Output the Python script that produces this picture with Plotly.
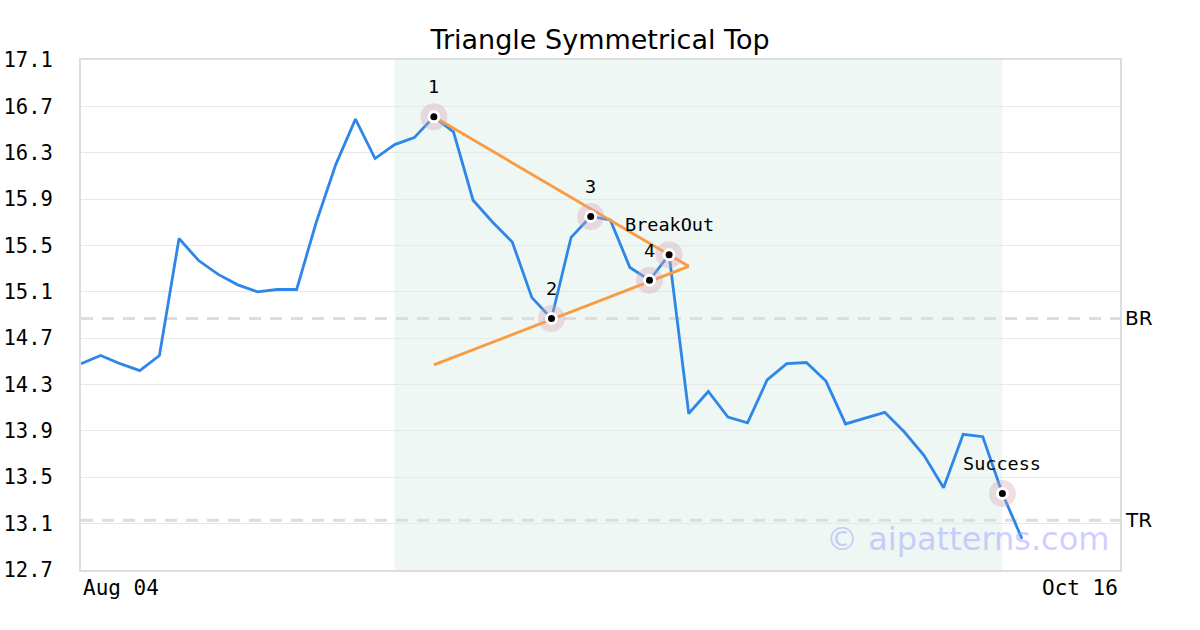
import plotly.graph_objects as go

# ---- data ----
x_labels = ["Aug 04", "Oct 16"]
x_label_pos = [0, 53]
prices = [14.48, 14.55, 14.48, 14.42, 14.55, 15.56, 15.37, 15.25, 15.16, 15.10,
          15.12, 15.12, 15.70, 16.20, 16.59, 16.25, 16.37, 16.43, 16.61, 16.48,
          15.89, 15.70, 15.53, 15.05, 14.87, 15.57, 15.75, 15.72, 15.31, 15.20,
          15.42, 14.05, 14.24, 14.02, 13.97, 14.34, 14.48, 14.49, 14.33, 13.96,
          14.01, 14.06, 13.89, 13.69, 13.41, 13.87, 13.85, 13.36, 12.97]
idx = list(range(len(prices)))

pivot_idx = [18, 24, 26, 29, 30, 47]
pivot_labels = ["1", "2", "3", "4", "BreakOut", "Success"]

upper_x = [18, 31]
upper_y = [16.61, 15.32]
lower_x = [18, 31]
lower_y = [14.47, 15.32]

shade_x = [16, 47]
br_level = 14.87
tr_level = 13.13
y_ticks = [12.7, 13.1, 13.5, 13.9, 14.3, 14.7, 15.1, 15.5, 15.9, 16.3, 16.7, 17.1]

mono = "DejaVu Sans Mono"
sans = "DejaVu Sans"

fig = go.Figure()

fig.add_trace(go.Scatter(x=idx, y=prices, mode="lines",
                         line=dict(color="#2e86e8", width=2.8), hoverinfo="skip"))
fig.add_trace(go.Scatter(x=upper_x, y=upper_y, mode="lines",
                         line=dict(color="#fb9a3e", width=2.8), hoverinfo="skip"))
fig.add_trace(go.Scatter(x=lower_x, y=lower_y, mode="lines",
                         line=dict(color="#fb9a3e", width=2.8), hoverinfo="skip"))

px_ = [idx[i] for i in pivot_idx]
py_ = [prices[i] for i in pivot_idx]
fig.add_trace(go.Scatter(x=px_, y=py_, mode="markers",
                         marker=dict(size=27, color="rgba(215,160,180,0.35)", line=dict(width=0)),
                         hoverinfo="skip"))
fig.add_trace(go.Scatter(x=px_, y=py_, mode="markers",
                         marker=dict(size=10, color="black", line=dict(color="white", width=3)),
                         hoverinfo="skip"))

# shaded region
fig.add_shape(type="rect", xref="x", yref="paper", x0=shade_x[0], x1=shade_x[1], y0=0, y1=1,
              fillcolor="#eef7f3", line=dict(width=0), layer="below")

# BR / TR dashed lines
for lvl in (br_level, tr_level):
    fig.add_shape(type="line", xref="paper", yref="y", x0=0, x1=1, y0=lvl, y1=lvl,
                  line=dict(color="#dddddd", width=3, dash="12px,9px"), layer="below")

# pivot labels
for i, lab in zip(pivot_idx, pivot_labels):
    fig.add_annotation(x=i, y=prices[i], text=lab, showarrow=False, yshift=30,
                       font=dict(family=mono, size=18.5, color="black"))

# BR / TR labels
fig.add_annotation(x=1, xref="paper", y=br_level, yref="y", text="BR", showarrow=False,
                   xanchor="left", xshift=3, font=dict(family=sans, size=20, color="black"))
fig.add_annotation(x=1, xref="paper", y=tr_level, yref="y", text="TR", showarrow=False,
                   xanchor="left", xshift=3, font=dict(family=sans, size=20, color="black"))

# x labels
fig.add_annotation(x=x_label_pos[0], xref="x", y=0, yref="paper", text=x_labels[0], showarrow=False,
                   xanchor="left", yanchor="top", yshift=-4, font=dict(family=mono, size=21, color="black"))
fig.add_annotation(x=x_label_pos[1], xref="x", y=0, yref="paper", text=x_labels[1], showarrow=False,
                   xanchor="right", yanchor="top", yshift=-4, font=dict(family=mono, size=21, color="black"))

# watermark
fig.add_annotation(x=1, xref="paper", y=0, yref="paper", text="© aipatterns.com", showarrow=False,
                   xanchor="right", yanchor="bottom", xshift=-9, yshift=10,
                   font=dict(family=sans, size=32, color="rgba(160,160,255,0.5)"))

fig.update_layout(
    width=1200, height=630,
    margin=dict(l=81, r=80, t=60, b=60, autoexpand=False),
    paper_bgcolor="white", plot_bgcolor="white",
    showlegend=False,
    title=dict(text="Triangle Symmetrical Top", x=0.5, xanchor="center", y=0.937, yanchor="middle",
               font=dict(family=sans, size=27, color="black")),
    xaxis=dict(range=[0, 53], showgrid=False, zeroline=False, showticklabels=False,
               showline=True, linecolor="#dddddd", linewidth=2, mirror=True, automargin=False),
    yaxis=dict(range=[12.7, 17.1], tickvals=y_ticks, ticktext=[f"{v:.1f}" for v in y_ticks],
               showgrid=True, gridcolor="#e8e8e8", gridwidth=1, zeroline=False,
               showline=True, linecolor="#dddddd", linewidth=2, mirror=True, automargin=False,
               tickfont=dict(family=mono, size=20.5, color="black"), ticklabelstandoff=22),
)

fig.write_html("out.html", config={"displayModeBar": False},
               post_script="document.body.style.margin='0';")
